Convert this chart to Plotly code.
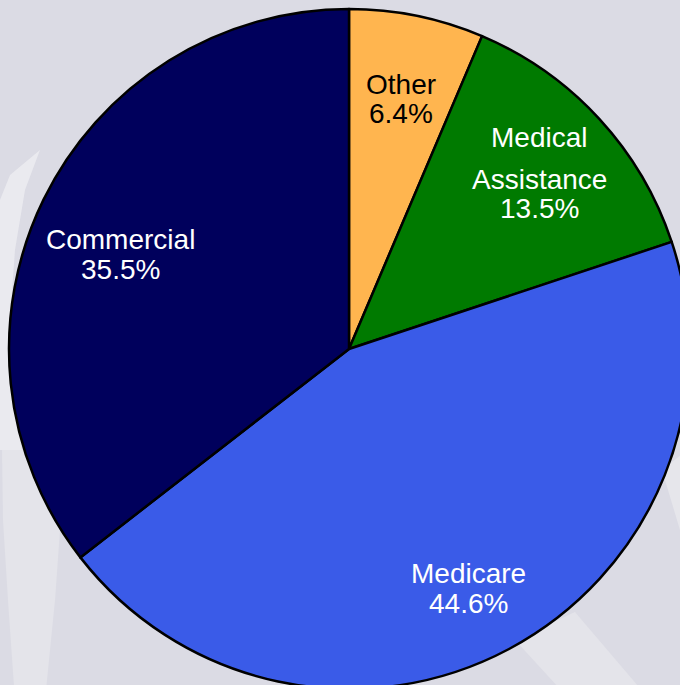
import plotly.graph_objects as go

# ---- data ----
categories = ["Other", "Medical Assistance", "Medicare", "Commercial"]
shares = [6.4, 13.5, 44.6, 35.5]
colors = ["#FFB54F", "#007A00", "#3A5BE8", "#00005C"]
label_lines = [["Other", "6.4%"], ["Medical", "Assistance", "13.5%"],
               ["Medicare", "44.6%"], ["Commercial", "35.5%"]]
label_colors = ["#000000", "#FFFFFF", "#FFFFFF", "#FFFFFF"]

# ---- layout geometry (pixels) ----
FW, FH = 700, 700           # figure size (window shows 680x685)
CX, CY, R = 349, 349, 340   # pie centre and radius in pixels
BG = "#DBDBE4"

def px(x):
    return x / FW

def py(y):
    return 1 - y / FH

fig = go.Figure(go.Pie(
    labels=categories,
    values=shares,
    sort=False,
    direction="clockwise",
    rotation=0,
    marker=dict(colors=colors, line=dict(color="#000000", width=2.5)),
    textinfo="none",
    hoverinfo="label+percent",
    showlegend=False,
    domain=dict(x=[px(CX - R), px(CX + R)], y=[py(CY + R), py(CY - R)]),
))

# label anchors (pixel positions of each text line centre)
label_pos = [
    [(401, 84), (401, 113)],
    [(539, 137), (539, 179), (539, 208)],
    [(468, 573), (468, 603)],
    [(120, 239), (120, 269)],
]
annotations = []
for lines, poss, col in zip(label_lines, label_pos, label_colors):
    for t, (x, y) in zip(lines, poss):
        annotations.append(dict(
            x=px(x), y=py(y), xref="paper", yref="paper", text=t,
            showarrow=False, xanchor="center", yanchor="middle",
            font=dict(family="Liberation Sans, Arial, sans-serif", size=28, color=col),
        ))

def path(points):
    s = "M " + " L ".join(f"{px(x):.4f},{py(y):.4f}" for x, y in points) + " Z"
    return s

shapes = [
    # light swoosh hugging the left edge of the pie
    dict(type="path", xref="paper", yref="paper", layer="below", line=dict(width=0),
         fillcolor="#EAEAEF",
         path=path([(40, 150), (25, 190), (15, 250), (10, 320), (12, 400), (22, 450),
                    (0, 450), (0, 200), (10, 175)])),
    # lower-left band
    dict(type="path", xref="paper", yref="paper", layer="below", line=dict(width=0),
         fillcolor="#E4E4EA",
         path=path([(2, 450), (30, 450), (60, 530), (55, 600), (45, 700), (15, 700),
                    (8, 600), (3, 520)])),
    # lower-right diagonal band
    dict(type="path", xref="paper", yref="paper", layer="below", line=dict(width=0),
         fillcolor="#E4E4EA",
         path=path([(515, 640), (575, 612), (650, 700), (570, 700)])),
    # right edge light area
    dict(type="path", xref="paper", yref="paper", layer="below", line=dict(width=0),
         fillcolor="#E6E6EB",
         path=path([(662, 470), (700, 440), (700, 540), (680, 530)])),
]

fig.update_layout(
    width=FW, height=FH,
    margin=dict(l=0, r=0, t=0, b=0),
    paper_bgcolor=BG, plot_bgcolor=BG,
    annotations=annotations,
    shapes=shapes,
)

fig.write_html(
    "out.html",
    config={"displayModeBar": False},
    post_script="document.body.style.margin='0';document.body.style.overflow='hidden';"
                "document.body.style.background='" + BG + "';",
)
